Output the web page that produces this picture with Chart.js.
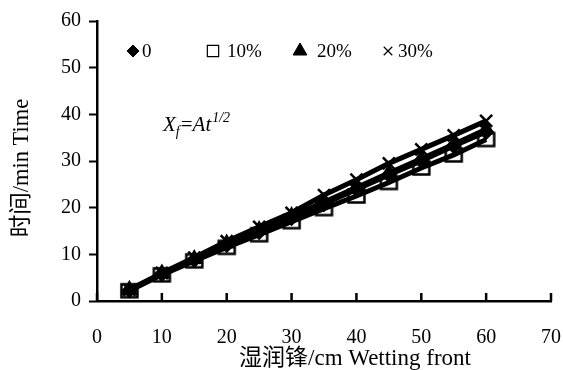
<!DOCTYPE html>
<html>
<head>
<meta charset="utf-8">
<script src="https://cdn.jsdelivr.net/npm/chart.js@4/dist/chart.umd.min.js"></script>
<style>
html,body{margin:0;padding:0;background:#fff;}
#wrap{width:563px;height:370px;position:relative;}
</style>
</head>
<body>
<div id="wrap"><canvas id="c" width="563" height="370"></canvas></div>
<script>
// ---- data ----
const wettingFront = [5, 10, 15, 20, 25, 30, 35, 40, 45, 50, 55, 60];
const time0  = [2.3, 5.8, 8.8, 12.0, 14.8, 17.8, 20.8, 23.9, 27.0, 30.0, 33.2, 36.2];
const time10 = [2.2, 5.6, 8.6, 11.5, 14.2, 17.0, 19.8, 22.5, 25.4, 28.5, 31.3, 34.6];
const time20 = [2.4, 5.9, 9.0, 12.3, 15.2, 18.2, 21.2, 24.3, 27.4, 30.5, 33.6, 36.8];
const time30 = [2.4, 6.0, 9.3, 12.8, 15.9, 18.9, 22.7, 26.0, 29.5, 32.5, 35.5, 38.6];
const seriesLabels = ['0', '10%', '20%', '30%'];
const xTicks = [0, 10, 20, 30, 40, 50, 60, 70];
const yTicks = [0, 10, 20, 30, 40, 50, 60];
const xTitle = '湿润锋/cm Wetting front';
const yTitle = '时间/min Time';

const SERIF = "'Liberation Serif', 'Noto Sans CJK SC', serif";

function makeSquare(w, h, lw) {
  const c = document.createElement('canvas');
  c.width = w + lw * 2; c.height = h + lw * 2;
  const g = c.getContext('2d');
  g.strokeStyle = '#000'; g.lineWidth = lw;
  g.strokeRect(lw, lw, w, h);
  return c;
}
const squareImg = makeSquare(16, 13, 2.5);

function pts(ys) { return wettingFront.map((x, i) => ({x: x, y: ys[i]})); }

const styles = [
  {pointStyle: 'rectRot', radius: 6.5, fill: true},
  {pointStyle: squareImg, radius: 8, fill: false},
  {pointStyle: 'triangle', radius: 7.5, fill: true},
  {pointStyle: 'crossRot', radius: 8.5, fill: false}
];
const seriesData = [time0, time10, time20, time30];

const datasets = seriesData.map((ys, i) => ({
  label: seriesLabels[i],
  data: pts(ys),
  showLine: true,
  borderColor: '#000',
  borderWidth: 5,
  backgroundColor: '#000',
  pointStyle: styles[i].pointStyle,
  pointRadius: styles[i].radius,
  pointBorderWidth: 2.5,
  pointBorderColor: '#000',
  pointBackgroundColor: styles[i].fill ? '#000' : 'rgba(0,0,0,0)',
  tension: 0
}));

const xInwardTicks = {
  id: 'xInwardTicks',
  afterDraw(chart) {
    const ctx = chart.ctx, xs = chart.scales.x, bottom = chart.chartArea.bottom;
    ctx.save();
    ctx.strokeStyle = '#000'; ctx.lineWidth = 2.5;
    xs.ticks.forEach(t => {
      const px = xs.getPixelForValue(t.value);
      ctx.beginPath(); ctx.moveTo(px, bottom); ctx.lineTo(px, bottom - 8); ctx.stroke();
    });
    ctx.restore();
  }
};

const axisTitles = {
  id: 'axisTitles',
  afterDraw(chart) {
    const ctx = chart.ctx;
    ctx.save();
    ctx.fillStyle = '#000';
    ctx.font = '23px ' + SERIF;
    ctx.textAlign = 'center';
    ctx.textBaseline = 'middle';
    ctx.fillText(xTitle, 355, 359);
    ctx.translate(22, 168);
    ctx.rotate(-Math.PI / 2);
    ctx.font = '22.5px ' + SERIF;
    ctx.fillText(yTitle, 0, 0);
    ctx.restore();
  }
};

const overlayLegend = {
  id: 'overlayLegend',
  afterDraw(chart) {
    const ctx = chart.ctx;
    const y = 51;
    const items = [
      {sx: 133, tx: 142, style: 'rectRot', r: 6, fill: true},
      {sx: 213, tx: 227, style: 'rect', r: 8, fill: false},
      {sx: 300, tx: 317, style: 'triangle', r: 8, fill: true},
      {sx: 388, tx: 398, style: 'crossRot', r: 6, fill: false}
    ];
    ctx.save();
    ctx.font = '19px ' + SERIF;
    ctx.textBaseline = 'middle';
    ctx.textAlign = 'left';
    chart.data.datasets.forEach((ds, i) => {
      const it = items[i];
      ctx.fillStyle = it.fill ? '#000' : 'rgba(0,0,0,0)';
      ctx.strokeStyle = '#000';
      ctx.lineWidth = it.fill ? 1 : 1.2;
      Chart.helpers.drawPoint(ctx, {pointStyle: it.style, radius: it.r, borderWidth: ctx.lineWidth, rotation: 0}, it.sx, y);
      ctx.fillStyle = '#000';
      ctx.fillText(ds.label, it.tx, y + 1);
    });
    ctx.restore();
  }
};

const formulaLabel = {
  id: 'formulaLabel',
  afterDraw(chart) {
    const ctx = chart.ctx;
    ctx.save();
    ctx.fillStyle = '#000';
    ctx.textBaseline = 'alphabetic';
    ctx.textAlign = 'left';
    let x = 163, base = 131;
    ctx.font = 'italic 21px ' + SERIF;
    ctx.fillText('X', x, base); x += ctx.measureText('X').width;
    ctx.font = 'italic 14px ' + SERIF;
    ctx.fillText('f', x, base + 5); x += ctx.measureText('f').width + 1;
    ctx.font = '21px ' + SERIF;
    ctx.fillText('=', x, base); x += ctx.measureText('=').width;
    ctx.font = 'italic 21px ' + SERIF;
    ctx.fillText('At', x, base); x += ctx.measureText('At').width + 1;
    ctx.font = 'italic 14px ' + SERIF;
    ctx.fillText('1/2', x, base - 9);
    ctx.restore();
  }
};

new Chart(document.getElementById('c'), {
  type: 'scatter',
  data: {datasets: datasets},
  options: {
    responsive: false,
    animation: false,
    layout: {padding: {left: 0, top: 21, right: 0, bottom: 0}},
    plugins: {legend: {display: false}, tooltip: {enabled: false}},
    scales: {
      x: {
        type: 'linear', min: 0, max: 70,
        afterBuildTicks(s) { s.ticks = xTicks.map(v => ({value: v})); },
        afterFit(s) { s.height = 69; s.paddingRight = 12; s.paddingLeft = 0; },
        grid: {drawOnChartArea: false, drawTicks: false},
        border: {display: true, color: '#000', width: 2.5},
        ticks: {color: '#000', font: {family: SERIF, size: 20}, padding: 25, maxRotation: 0},
        title: {display: false}
      },
      y: {
        type: 'linear', min: 0, max: 60,
        afterBuildTicks(s) { s.ticks = yTicks.map(v => ({value: v})); },
        afterFit(s) { s.width = 97; },
        grid: {drawOnChartArea: false, drawTicks: true, tickLength: 8, tickColor: '#000', tickWidth: 2},
        border: {display: true, color: '#000', width: 2.5},
        ticks: {color: '#000', font: {family: SERIF, size: 20}, padding: 8},
        title: {display: false}
      }
    }
  },
  plugins: [xInwardTicks, axisTitles, overlayLegend, formulaLabel]
});
</script>
</body>
</html>
